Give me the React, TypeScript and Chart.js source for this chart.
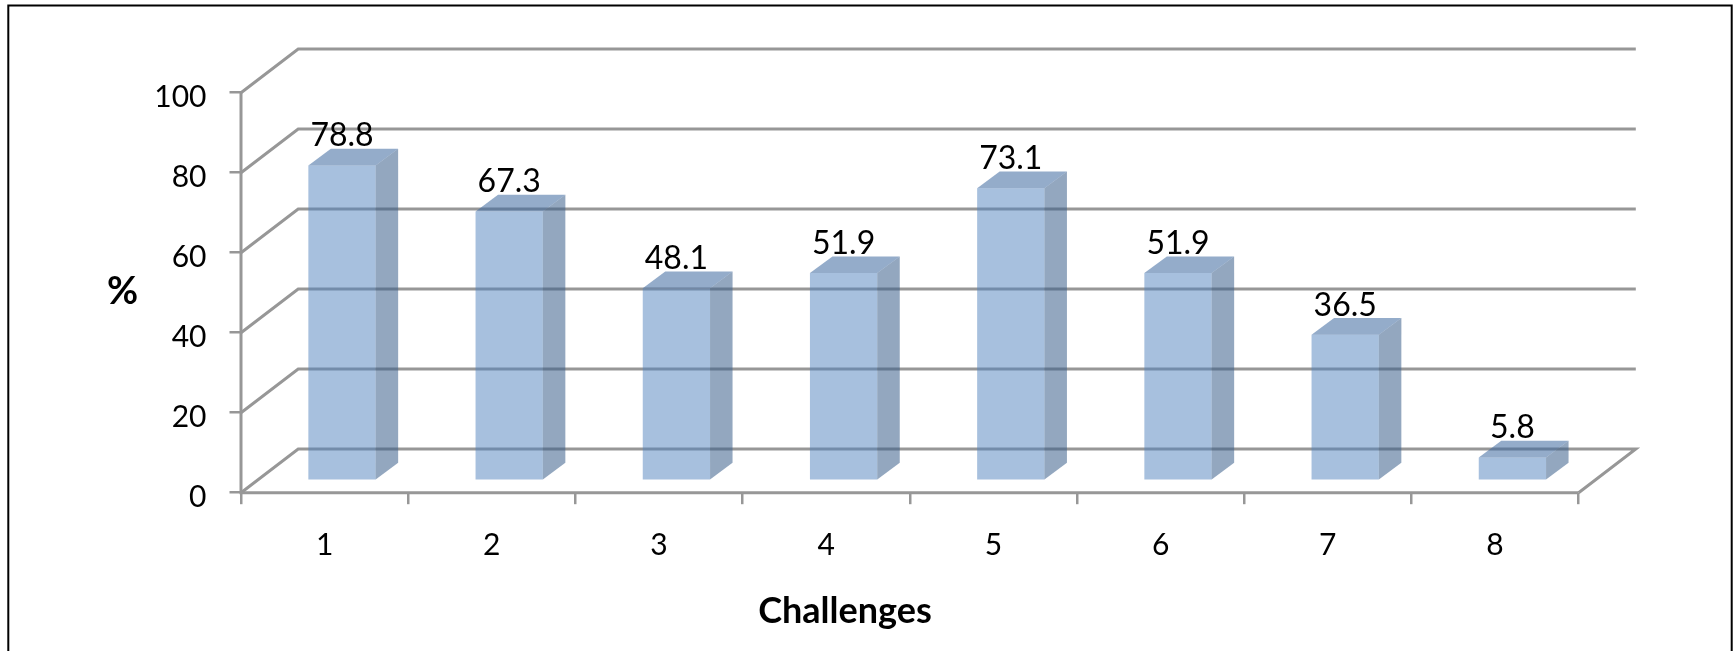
import React, { useEffect, useRef } from "react";
import { Chart, registerables } from "chart.js";

Chart.register(...registerables);

const categories = ["1", "2", "3", "4", "5", "6", "7", "8"];
const percentValues = [78.8, 67.3, 48.1, 51.9, 73.1, 51.9, 36.5, 5.8];
const yTicks = [0, 20, 40, 60, 80, 100];
const xTitle = "Challenges";
const yTitle = "%";

const FONT = "Lato, 'Open Sans', sans-serif";
const GRID = "#979797";
const DEPTH_X = 57.2;
const DEPTH_Y = 43.7;
const BAR_SHIFT_X = 17.4;
const BAR_SHIFT_Y = 12;
const FACE_X = 22.5;
const FACE_Y = 16.7;

const wallsPlugin = {
  id: "walls",
  beforeDatasetsDraw(chart: any) {
    const { ctx, scales, chartArea } = chart;
    const y = scales.y;
    ctx.save();
    ctx.strokeStyle = "#000";
    ctx.lineWidth = 2;
    ctx.strokeRect(8.3, 5.5, 1723.4, 800);
    ctx.strokeStyle = GRID;
    ctx.lineWidth = 3;
    ctx.lineJoin = "miter";
    yTicks.forEach((t) => {
      const py = y.getPixelForValue(t);
      ctx.beginPath();
      ctx.moveTo(chartArea.left, py);
      ctx.lineTo(chartArea.left + DEPTH_X, py - DEPTH_Y);
      ctx.lineTo(chartArea.right + DEPTH_X, py - DEPTH_Y);
      if (t === 0) ctx.lineTo(chartArea.right, py);
      ctx.stroke();
    });
    ctx.beginPath();
    ctx.moveTo(chartArea.left, y.getPixelForValue(100));
    ctx.lineTo(chartArea.left, y.getPixelForValue(0));
    ctx.lineTo(chartArea.right, y.getPixelForValue(0));
    ctx.stroke();
    ctx.restore();
    ctx.save();
    ctx.translate(BAR_SHIFT_X, -BAR_SHIFT_Y);
  },
  afterDatasetsDraw(chart: any) {
    const { ctx } = chart;
    const bars = chart.getDatasetMeta(0).data;
    bars.forEach((bar: any) => {
      const l = bar.x - bar.width / 2;
      const r = bar.x + bar.width / 2;
      ctx.fillStyle = "rgba(58,95,139,0.55)";
      ctx.beginPath();
      ctx.moveTo(r, bar.y);
      ctx.lineTo(r + FACE_X, bar.y - FACE_Y);
      ctx.lineTo(r + FACE_X, bar.base - FACE_Y);
      ctx.lineTo(r, bar.base);
      ctx.closePath();
      ctx.fill();
      ctx.fillStyle = "rgba(60,104,158,0.55)";
      ctx.beginPath();
      ctx.moveTo(l, bar.y);
      ctx.lineTo(l + FACE_X, bar.y - FACE_Y);
      ctx.lineTo(r + FACE_X, bar.y - FACE_Y);
      ctx.lineTo(r, bar.y);
      ctx.closePath();
      ctx.fill();
    });
    ctx.restore();

    ctx.save();
    ctx.fillStyle = "#000";
    ctx.textAlign = "center";
    ctx.textBaseline = "middle";
    ctx.font = `32px ${FONT}`;
    bars.forEach((bar: any, i: number) => {
      ctx.fillText(String(percentValues[i]), bar.x + BAR_SHIFT_X, bar.y - BAR_SHIFT_Y - 29.5);
    });
    ctx.font = `bold 36px ${FONT}`;
    ctx.fillText(xTitle, 845, 611);
    ctx.font = `bold 38px ${FONT}`;
    ctx.fillText(yTitle, 122.5, 292);
    ctx.restore();
  },
};

export default function App() {
  const ref = useRef<HTMLCanvasElement>(null);
  useEffect(() => {
    document.body.style.margin = "0";
    const chart = new Chart(ref.current!, {
      type: "bar",
      data: {
        labels: categories,
        datasets: [
          {
            data: percentValues,
            backgroundColor: "rgba(79,129,189,0.5)",
            borderWidth: 0,
            categoryPercentage: 1,
            barPercentage: 0.4025,
          },
        ],
      },
      options: {
        responsive: false,
        animation: false,
        layout: { padding: { top: 92.7, right: 157.4, left: 0, bottom: 0 } },
        plugins: { legend: { display: false }, tooltip: { enabled: false } },
        scales: {
          x: {
            grid: {
              drawOnChartArea: false,
              drawTicks: true,
              tickLength: 11.5,
              color: GRID,
              lineWidth: 2.5,
            },
            border: { display: false },
            ticks: { color: "#000", font: { family: FONT, size: 30 }, padding: 23, maxRotation: 0 },
            afterFit(scale: any) {
              scale.height = 158.3;
            },
          },
          y: {
            min: 0,
            max: 100,
            afterBuildTicks(scale: any) {
              scale.ticks = yTicks.map((value) => ({ value }));
            },
            grid: {
              drawOnChartArea: false,
              drawTicks: true,
              tickLength: 11.5,
              color: GRID,
              lineWidth: 2.5,
            },
            border: { display: false },
            ticks: { color: "#000", font: { family: FONT, size: 30 }, padding: 23, labelOffset: 5 },
            afterFit(scale: any) {
              scale.width = 241;
            },
          },
        },
      },
      plugins: [wallsPlugin],
    });
    return () => chart.destroy();
  }, []);
  return <canvas ref={ref} width={1736} height={651} style={{ display: "block" }} />;
}
